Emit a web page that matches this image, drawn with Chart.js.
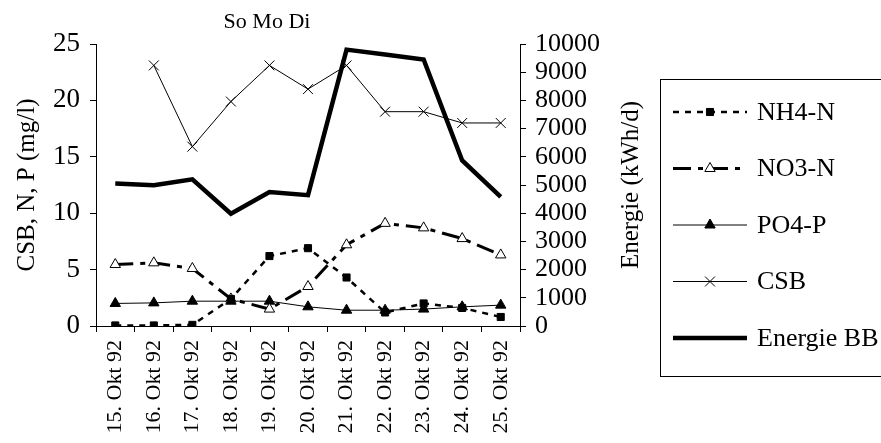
<!DOCTYPE html>
<html>
<head>
<meta charset="utf-8">
<script src="https://cdn.jsdelivr.net/npm/chart.js@4"></script>
<style>
  body { margin: 0; background: #fff; }
  #wrap { width: 881px; height: 443px; position: relative; }
</style>
</head>
<body>
<div id="wrap"><canvas id="chartCanvas"></canvas></div>
<script>
// Data
const dates = ["15. Okt 92", "16. Okt 92", "17. Okt 92", "18. Okt 92", "19. Okt 92", "20. Okt 92",
  "21. Okt 92", "22. Okt 92", "23. Okt 92", "24. Okt 92", "25. Okt 92"];
const nh4 = [0.05, 0.05, 0.1, 2.4, 6.2, 6.9, 4.3, 1.2, 2.0, 1.6, 0.8];
const no3 = [5.45, 5.6, 5.1, 2.4, 1.5, 3.5, 7.2, 9.1, 8.7, 7.75, 6.3];
const po4 = [2.0, 2.05, 2.2, 2.2, 2.2, 1.7, 1.4, 1.4, 1.5, 1.7, 1.85];
const csb = [null, 23.1, 15.9, 19.9, 23.1, 21.0, 23.1, 19.0, 19.0, 18.0, 18.0];
const energie = [5050, 4990, 5200, 3980, 4750, 4640, 9800, 9630, 9450, 5870, 4580];

const serif = "'Liberation Serif', 'Times New Roman', serif";

// Title, right axis title and the boxed legend (line sample + marker like the original)
const boxLegend = {
  id: 'boxLegend',
  afterDraw(chart) {
    const { ctx } = chart;
    ctx.save();
    ctx.fillStyle = '#000';
    ctx.font = `22px ${serif}`;
    ctx.textAlign = 'center';
    ctx.textBaseline = 'middle';
    ctx.fillText('So Mo Di', 267, 22);

    // right axis title reads bottom-to-top like the left one
    const area = chart.chartArea;
    ctx.save();
    ctx.translate(631, (area.top + area.bottom) / 2);
    ctx.rotate(-Math.PI / 2);
    ctx.font = `25px ${serif}`;
    ctx.fillText('Energie (kWh/d)', 0, 0);
    ctx.restore();

    ctx.fillStyle = '#fff';
    ctx.fillRect(660, 79, 260, 297);
    ctx.strokeStyle = '#000';
    ctx.lineWidth = 1;
    ctx.strokeRect(660.5, 79.5, 260, 297);

    chart.data.datasets.forEach((ds, i) => {
      const y = 112 + i * 56.5;
      ctx.save();
      ctx.strokeStyle = '#000';
      ctx.lineWidth = ds.borderWidth;
      ctx.setLineDash(ds.borderDash || []);
      ctx.beginPath();
      ctx.moveTo(673, y);
      ctx.lineTo(747, y);
      ctx.stroke();
      ctx.restore();
      if (ds.pointRadius > 0) {
        ctx.save();
        ctx.setLineDash([]);
        ctx.fillStyle = ds.pointBackgroundColor;
        ctx.strokeStyle = ds.pointBorderColor;
        ctx.lineWidth = ds.pointBorderWidth || 1;
        Chart.helpers.drawPoint(ctx, {
          pointStyle: ds.pointStyle,
          radius: ds.pointRadius,
          borderWidth: ds.pointBorderWidth || 1,
          rotation: 0
        }, 710, y);
        ctx.restore();
      }
      ctx.fillStyle = '#000';
      ctx.font = `26px ${serif}`;
      ctx.textAlign = 'left';
      ctx.textBaseline = 'middle';
      ctx.fillText(ds.label, 757, y + 1);
    });
    ctx.restore();
  }
};

const ctx = document.getElementById('chartCanvas').getContext('2d');
new Chart(ctx, {
  type: 'line',
  data: {
    labels: dates,
    datasets: [
      {
        label: 'NH4-N',
        data: nh4,
        yAxisID: 'y',
        borderColor: '#000',
        borderWidth: 2.5,
        borderDash: [6, 6],
        pointStyle: 'rect',
        pointRadius: 5,
        pointBackgroundColor: '#000',
        pointBorderColor: '#000',
        pointBorderWidth: 1,
        tension: 0
      },
      {
        label: 'NO3-N',
        data: no3,
        yAxisID: 'y',
        borderColor: '#000',
        borderWidth: 3,
        borderDash: [18, 7, 5, 7],
        pointStyle: 'triangle',
        pointRadius: 6,
        pointBackgroundColor: '#fff',
        pointBorderColor: '#000',
        pointBorderWidth: 1,
        tension: 0
      },
      {
        label: 'PO4-P',
        data: po4,
        yAxisID: 'y',
        borderColor: '#000',
        borderWidth: 1,
        pointStyle: 'triangle',
        pointRadius: 6,
        pointBackgroundColor: '#000',
        pointBorderColor: '#000',
        pointBorderWidth: 1,
        tension: 0
      },
      {
        label: 'CSB',
        data: csb,
        yAxisID: 'y',
        borderColor: '#000',
        borderWidth: 1,
        pointStyle: 'crossRot',
        pointRadius: 7,
        pointBackgroundColor: '#000',
        pointBorderColor: '#000',
        pointBorderWidth: 1,
        tension: 0
      },
      {
        label: 'Energie BB',
        data: energie,
        yAxisID: 'y1',
        borderColor: '#000',
        borderWidth: 4.5,
        pointRadius: 0,
        tension: 0
      }
    ]
  },
  options: {
    responsive: true,
    maintainAspectRatio: false,
    animation: false,
    layout: { padding: { left: 0, right: 236, top: 44, bottom: 0 } },
    plugins: {
      legend: { display: false },
      tooltip: { enabled: false }
    },
    scales: {
      x: {
        offset: true,
        afterFit: (s) => { s.height = 117; },
        grid: { offset: true, drawOnChartArea: false, tickLength: 6, color: '#000' },
        border: { color: '#000', width: 1 },
        ticks: {
          color: '#000',
          font: { family: serif, size: 22 },
          minRotation: 90,
          maxRotation: 90,
          autoSkip: false,
          padding: 8
        }
      },
      y: {
        position: 'left',
        min: 0,
        max: 25,
        afterFit: (s) => { s.width = 96; },
        grid: { drawOnChartArea: false, tickLength: 6, color: '#000' },
        border: { color: '#000', width: 1 },
        ticks: {
          stepSize: 5,
          autoSkip: false,
          color: '#000',
          font: { family: serif, size: 27 },
          padding: 10
        },
        title: {
          display: true,
          text: 'CSB, N, P (mg/l)',
          color: '#000',
          font: { family: serif, size: 25, lineHeight: 1.2 },
          padding: { top: 12, bottom: 0 }
        }
      },
      y1: {
        position: 'right',
        min: 0,
        max: 10000,
        afterFit: (s) => { s.width = 125; },
        grid: { drawOnChartArea: false, tickLength: 6, color: '#000' },
        border: { color: '#000', width: 1 },
        ticks: {
          stepSize: 1000,
          autoSkip: false,
          color: '#000',
          font: { family: serif, size: 26 },
          padding: 9,
          callback: (v) => String(v)
        }
      }
    }
  },
  plugins: [boxLegend]
});
</script>
</body>
</html>
